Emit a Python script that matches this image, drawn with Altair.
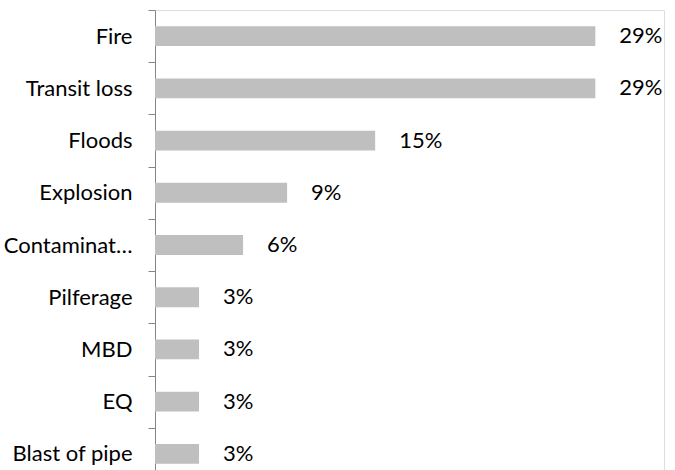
import altair as alt
import pandas as pd

categories = ["Fire", "Transit loss", "Floods", "Explosion", "Contamination",
              "Pilferage", "MBD", "EQ", "Blast of pipe"]
counts = [10, 10, 5, 3, 2, 1, 1, 1, 1]
total = 34

df = pd.DataFrame({"cause": categories, "count": counts})
df["share"] = df["count"] / total

FONT = "Lato"

base = alt.Chart(df).encode(
    y=alt.Y("cause:N", sort=categories,
            scale=alt.Scale(paddingInner=0.62, paddingOuter=0.31),
            axis=alt.Axis(title=None, tickSize=7, tickOffset=-26.1, labelOffset=26.1,
                          domainColor="#868686", tickColor="#868686",
                          labelFont=FONT, labelFontSize=22, labelColor="#000000",
                          labelPadding=16, labelLimit=132)),
    x=alt.X("share:Q", scale=alt.Scale(domain=[0, 0.34], nice=False),
            axis=None),
)

bars = base.mark_bar(color="#BFBFBF")
labels = base.mark_text(align="left", baseline="middle", dx=24,
                        font=FONT, fontSize=22, color="#000000").encode(
    text=alt.Text("share:Q", format=".0%"))

chart = (bars + labels).properties(
    width=509, height=470,
    padding={"left": 155, "top": 10, "right": 11, "bottom": 0},
    autosize=alt.AutoSizeParams(type="none"),
).configure_view(stroke=None).configure(background="white")

chart.save("out.html", embed_options={"renderer": "svg", "actions": False})
